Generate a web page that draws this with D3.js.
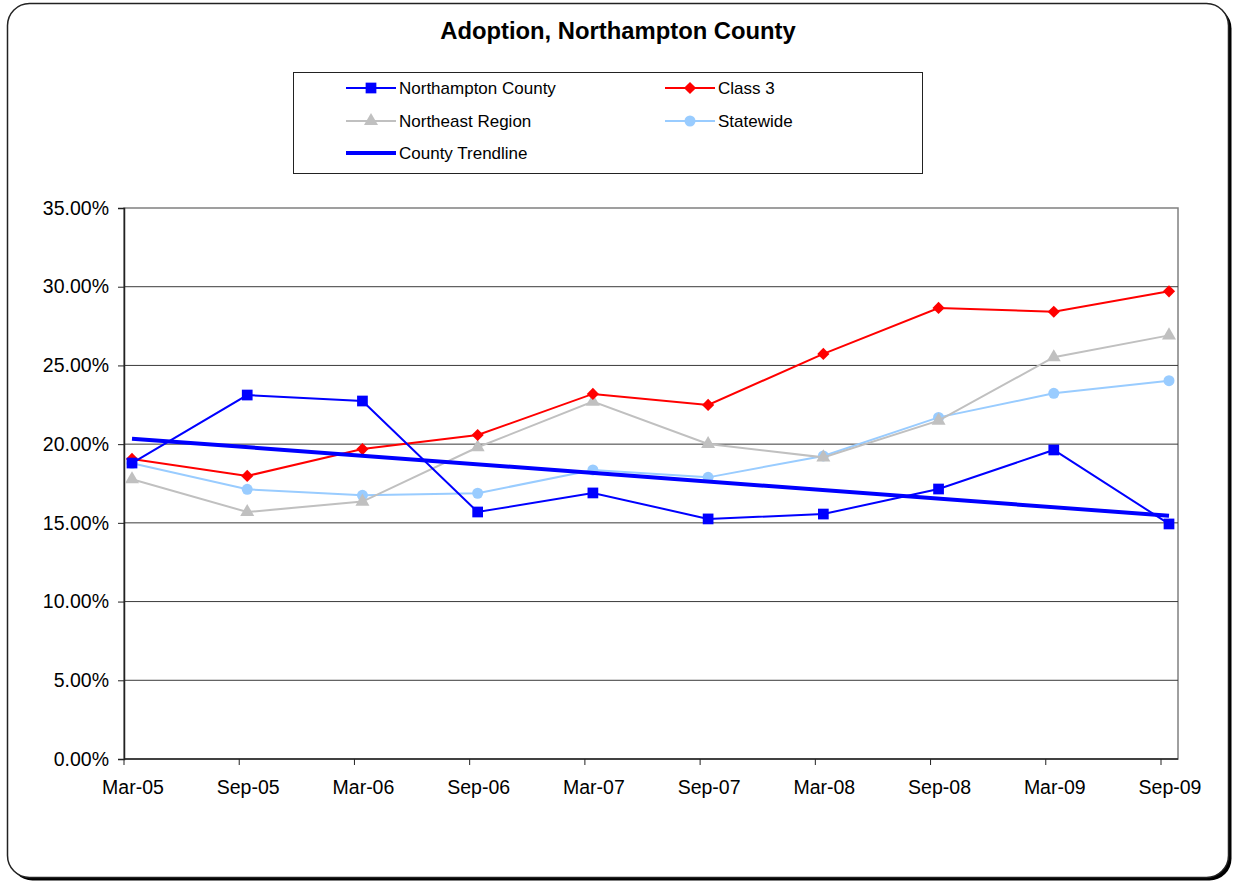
<!DOCTYPE html>
<html lang="en">

<head>
    <meta charset="UTF-8">
    <title>Adoption, Northampton County</title>
    <script src="https://cdn.jsdelivr.net/npm/d3@7"></script>
    <style>
        body { margin: 0; background: #fff; }
        text { font-family: "Liberation Sans", Arial, sans-serif; fill: #000; }
    </style>
</head>

<body>
</body>
<script>
    // periods on the x axis
    const periods = ["Mar-05", "Sep-05", "Mar-06", "Sep-06", "Mar-07", "Sep-07", "Mar-08", "Sep-08", "Mar-09", "Sep-09"];

    // values (percent)
    const northampton = [18.80, 23.12, 22.74, 15.69, 16.90, 15.25, 15.56, 17.15, 19.63, 14.93];
    const class3 = [19.06, 17.98, 19.69, 20.58, 23.19, 22.49, 25.73, 28.65, 28.41, 29.71];
    const northeast = [17.77, 15.69, 16.35, 19.80, 22.70, 20.01, 19.16, 21.49, 25.52, 26.91];
    const statewide = [18.78, 17.13, 16.75, 16.88, 18.36, 17.89, 19.25, 21.70, 23.23, 24.03];
    // county trendline, start (Mar-05) and end (Sep-09)
    const trendline = [20.35, 15.45];

    const yTicks = [0, 5, 10, 15, 20, 25, 30, 35];

    const width = 1233;
    const height = 882;

    const svg = d3.select("body")
        .append("svg")
        .attr("width", width)
        .attr("height", height);

    // outer frame with shadow
    svg.append("rect")
        .attr("x", 10.5).attr("y", 6.5)
        .attr("width", 1221).attr("height", 874)
        .attr("rx", 22)
        .attr("fill", "#000");
    svg.append("rect")
        .attr("x", 7.5).attr("y", 3.5)
        .attr("width", 1221).attr("height", 874)
        .attr("rx", 22)
        .attr("fill", "#fff")
        .attr("stroke", "#222")
        .attr("stroke-width", 1.5);

    svg.append("text")
        .attr("x", 618).attr("y", 39)
        .attr("text-anchor", "middle")
        .attr("font-size", 23.8)
        .attr("font-weight", "bold")
        .text("Adoption, Northampton County");

    // plot area
    const plotLeft = 124, plotRight = 1178, plotTop = 208, plotBottom = 759;
    const x = d3.scalePoint().domain(periods).range([132, 1169]);
    const y = d3.scaleLinear().domain([0, 35]).range([plotBottom, plotTop]);
    const tickShift = 8; // ticks sit a little left of the points

    svg.append("rect")
        .attr("x", plotLeft).attr("y", plotTop)
        .attr("width", plotRight - plotLeft).attr("height", plotBottom - plotTop)
        .attr("fill", "none")
        .attr("stroke", "#808080")
        .attr("stroke-width", 1.5);

    // gridlines
    svg.append("g")
        .selectAll("line")
        .data(yTicks.filter(d => d > 0 && d < 35))
        .join("line")
        .attr("x1", plotLeft).attr("x2", plotRight)
        .attr("y1", d => y(d)).attr("y2", d => y(d))
        .attr("stroke", "#3a3a3a")
        .attr("stroke-width", 1);

    // y axis
    const yAxis = svg.append("g")
        .attr("transform", `translate(${plotLeft},0)`)
        .call(d3.axisLeft(y).tickValues(yTicks).tickFormat(d => d.toFixed(2) + "%").tickSize(6).tickPadding(9));
    yAxis.select(".domain").attr("stroke", "#222").attr("stroke-width", 1.5);
    yAxis.selectAll(".tick line").attr("stroke", "#222");
    yAxis.selectAll("text").attr("font-size", 19.5).attr("fill", "#000")
        .attr("font-family", '"Liberation Sans", Arial, sans-serif');

    // x axis
    const xAxis = svg.append("g");
    xAxis.append("line")
        .attr("x1", plotLeft).attr("x2", plotRight)
        .attr("y1", plotBottom).attr("y2", plotBottom)
        .attr("stroke", "#222").attr("stroke-width", 1.5);
    xAxis.selectAll(".xt")
        .data(periods)
        .join("line")
        .attr("class", "xt")
        .attr("x1", d => x(d) - tickShift).attr("x2", d => x(d) - tickShift)
        .attr("y1", plotBottom).attr("y2", plotBottom + 6)
        .attr("stroke", "#222");
    xAxis.selectAll("text")
        .data(periods)
        .join("text")
        .attr("x", d => x(d) + 1)
        .attr("y", 794)
        .attr("text-anchor", "middle")
        .attr("font-size", 19.5)
        .text(d => d);

    // series
    const series = [
        { name: "Northampton County", values: northampton, color: "#0000ff", marker: "square" },
        { name: "Class 3", values: class3, color: "#ff0000", marker: "diamond" },
        { name: "Northeast Region", values: northeast, color: "#c0c0c0", marker: "triangle" },
        { name: "Statewide", values: statewide, color: "#99ccff", marker: "circle" }
    ];

    const symbols = {
        square: d3.symbol(d3.symbolSquare, 115),
        diamond: d3.symbol(d3.symbolDiamond2, 95),
        triangle: d3.symbol(d3.symbolTriangle, 85),
        circle: d3.symbol(d3.symbolCircle, 95)
    };

    const line = d3.line()
        .x((d, i) => x(periods[i]))
        .y(d => y(d));

    // draw back to front: statewide, northeast, class 3, county
    const drawOrder = [series[3], series[2], series[1], series[0]];
    drawOrder.forEach(s => {
        const g = svg.append("g");
        g.append("path")
            .attr("d", line(s.values))
            .attr("fill", "none")
            .attr("stroke", s.color)
            .attr("stroke-width", 2);
        g.selectAll("path.m")
            .data(s.values)
            .join("path")
            .attr("class", "m")
            .attr("transform", (d, i) => `translate(${x(periods[i])},${y(d)})`)
            .attr("d", symbols[s.marker]())
            .attr("fill", s.color);
    });

    // trendline
    svg.append("line")
        .attr("x1", x(periods[0])).attr("y1", y(trendline[0]))
        .attr("x2", x(periods[periods.length - 1])).attr("y2", y(trendline[1]))
        .attr("stroke", "#0000ff")
        .attr("stroke-width", 4);

    // legend
    const legend = svg.append("g");
    legend.append("rect")
        .attr("x", 293.5).attr("y", 72.5)
        .attr("width", 629).attr("height", 101)
        .attr("fill", "#fff")
        .attr("stroke", "#222")
        .attr("stroke-width", 1);

    const legendItems = [
        { s: series[0], lx: 346, ly: 88 },
        { s: series[1], lx: 665, ly: 88 },
        { s: series[2], lx: 346, ly: 121 },
        { s: series[3], lx: 665, ly: 121 },
        { s: { name: "County Trendline", color: "#0000ff", marker: null, trend: true }, lx: 346, ly: 153 }
    ];

    legendItems.forEach(it => {
        legend.append("line")
            .attr("x1", it.lx).attr("x2", it.lx + 50)
            .attr("y1", it.ly).attr("y2", it.ly)
            .attr("stroke", it.s.color)
            .attr("stroke-width", it.s.trend ? 4 : 2);
        if (it.s.marker) {
            legend.append("path")
                .attr("transform", `translate(${it.lx + 25},${it.ly})`)
                .attr("d", symbols[it.s.marker]())
                .attr("fill", it.s.color);
        }
        legend.append("text")
            .attr("x", it.lx + 53).attr("y", it.ly + 6)
            .attr("font-size", 17)
            .text(it.s.name);
    });
</script>

</html>
